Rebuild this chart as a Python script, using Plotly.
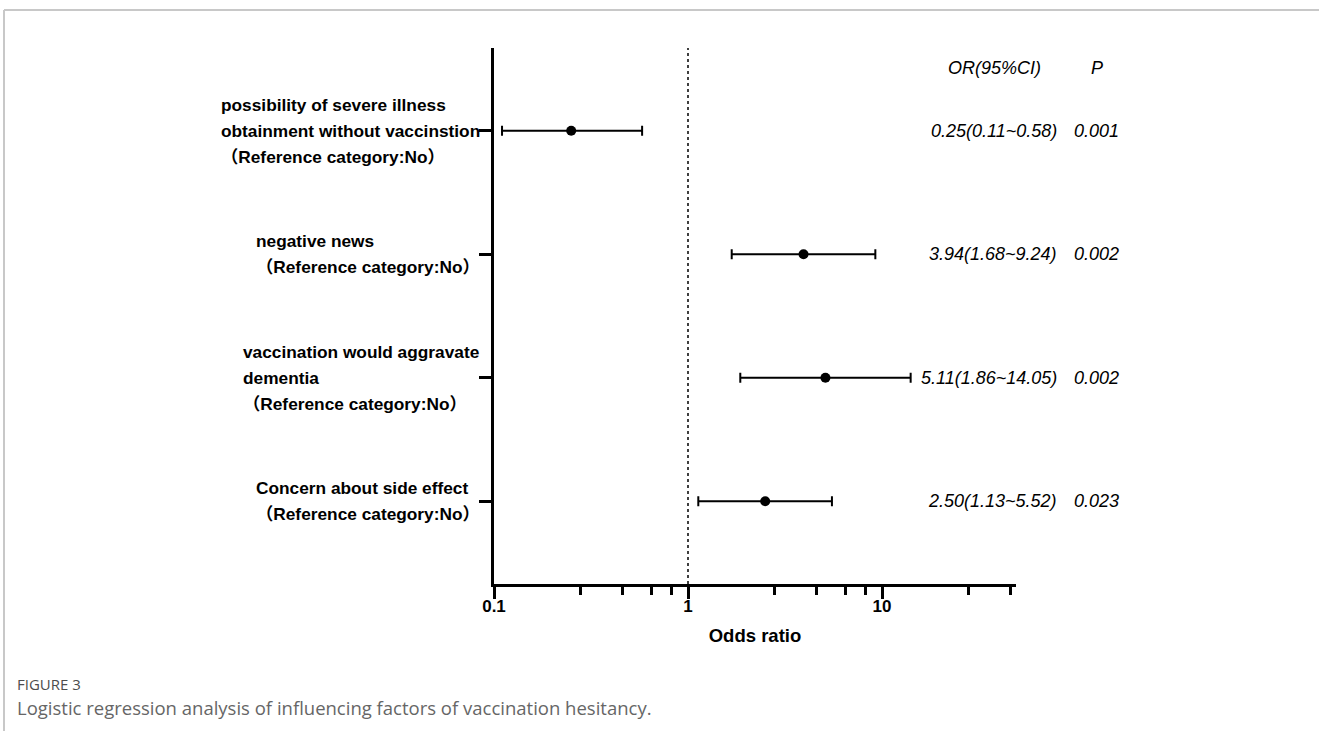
import plotly.graph_objects as go

# ---------------- data ----------------
factor_labels = [
    ["possibility of severe illness", "obtainment without vaccinstion", "（Reference category:No）"],
    ["negative news", "（Reference category:No）"],
    ["vaccination would aggravate", "dementia", "（Reference category:No）"],
    ["Concern about side effect", "（Reference category:No）"],
]
odds_ratio = [0.25, 3.94, 5.11, 2.50]
ci_lower = [0.11, 1.68, 1.86, 1.13]
ci_upper = [0.58, 9.24, 14.05, 5.52]
or_text = ["0.25(0.11~0.58)", "3.94(1.68~9.24)", "5.11(1.86~14.05)", "2.50(1.13~5.52)"]
p_text = ["0.001", "0.002", "0.002", "0.023"]
major_ticks = [0.1, 1, 10]
major_tick_text = ["0.1", "1", "10"]
minor_ticks = [0.28, 0.46, 0.65, 0.82, 2.8, 4.6, 6.5, 8.2, 28, 46]

# ---------------- layout helpers ----------------
W, H = 1319, 731
L, R, T, B = 494, 1016, 48, 584
def px(x):
    return (x - L) / (R - L)
def py(y):
    return (B - y) / (B - T)

FONT = "Arial, Liberation Sans, Noto Sans CJK SC, Helvetica, sans-serif"
CAPFONT = "Open Sans, Noto Sans, sans-serif"
ypos = list(range(len(odds_ratio)))

fig = go.Figure()
fig.add_trace(go.Scatter(
    x=odds_ratio, y=ypos, mode="markers",
    marker=dict(color="black", size=10, symbol="circle"),
    error_x=dict(type="data", symmetric=False,
                 array=[u - o for u, o in zip(ci_upper, odds_ratio)],
                 arrayminus=[o - l for o, l in zip(odds_ratio, ci_lower)],
                 color="black", thickness=2, width=5),
    hoverinfo="skip", showlegend=False,
))

annotations = []
for i, lines in enumerate(factor_labels):
    txt = "<br>".join(f"<span style='font-size:17.3px'>{s}</span>" for s in lines)
    annotations.append(dict(
        x=px(482), xref="paper", y=i, yref="y", text=f"<b>{txt}</b>",
        showarrow=False, xanchor="right", yanchor="middle", align="left",
        font=dict(family=FONT, size=20, color="black"),
    ))
    annotations.append(dict(
        x=px(1059), xref="paper", y=i, yref="y", text=f"<i>{or_text[i]}</i>",
        showarrow=False, xanchor="right", yanchor="middle",
        font=dict(family=FONT, size=18, color="black"),
    ))
    annotations.append(dict(
        x=px(1072), xref="paper", y=i, yref="y", text=f"<i>{p_text[i]}</i>",
        showarrow=False, xanchor="left", yanchor="middle",
        font=dict(family=FONT, size=18, color="black"),
    ))

annotations += [
    dict(x=px(994), y=py(68), xref="paper", yref="paper", text="<i>OR(95%CI)</i>",
         showarrow=False, xanchor="center", yanchor="middle",
         font=dict(family=FONT, size=18, color="black")),
    dict(x=px(1097), y=py(68), xref="paper", yref="paper", text="<i>P</i>",
         showarrow=False, xanchor="center", yanchor="middle",
         font=dict(family=FONT, size=18, color="black")),
    dict(x=px(15), y=py(684), xref="paper", yref="paper", text="FIGURE 3",
         showarrow=False, xanchor="left", yanchor="middle",
         font=dict(family=CAPFONT, size=15, color="#4d4d4d")),
    dict(x=px(15), y=py(707), xref="paper", yref="paper",
         text="Logistic regression analysis of influencing factors of vaccination hesitancy.",
         showarrow=False, xanchor="left", yanchor="middle",
         font=dict(family=CAPFONT, size=18.5, color="#666666")),
]

shapes = [
    dict(type="line", xref="x", yref="paper", x0=1, x1=1, y0=0, y1=1,
         line=dict(color="black", width=1.5, dash="dot")),
    dict(type="line", xref="paper", yref="paper", x0=px(4), x1=px(1325), y0=py(10), y1=py(10),
         line=dict(color="#c8c8c8", width=2)),
    dict(type="line", xref="paper", yref="paper", x0=px(4), x1=px(4), y0=py(10), y1=py(740),
         line=dict(color="#c8c8c8", width=2)),
]

fig.update_layout(
    width=W, height=H,
    margin=dict(l=L, r=W - R, t=T, b=H - B),
    paper_bgcolor="white", plot_bgcolor="white",
    annotations=annotations, shapes=shapes,
    xaxis=dict(
        type="log", range=[-1, 1.6907],
        tickvals=major_ticks, ticktext=[f"<b>{t}</b>" for t in major_tick_text],
        ticks="outside", ticklen=12, tickwidth=3, tickcolor="black",
        ticklabelstandoff=-7,
        tickfont=dict(family=FONT, size=17, color="black"),
        showline=True, linewidth=3, linecolor="black",
        showgrid=False, zeroline=False,
        minor=dict(tickvals=minor_ticks, ticks="outside", ticklen=8, tickwidth=3,
                   tickcolor="black", showgrid=False),
        title=dict(text="<b>Odds ratio</b>", font=dict(family=FONT, size=18.5, color="black"),
                   standoff=14),
    ),
    yaxis=dict(
        range=[3.67, -0.67], tickvals=ypos, showticklabels=False,
        ticks="outside", ticklen=12, tickwidth=3, tickcolor="black",
        showline=True, linewidth=3, linecolor="black",
        showgrid=False, zeroline=False,
    ),
)

fig.write_html("out.html", config={"displayModeBar": False},
               post_script="document.body.style.margin='0px';")
